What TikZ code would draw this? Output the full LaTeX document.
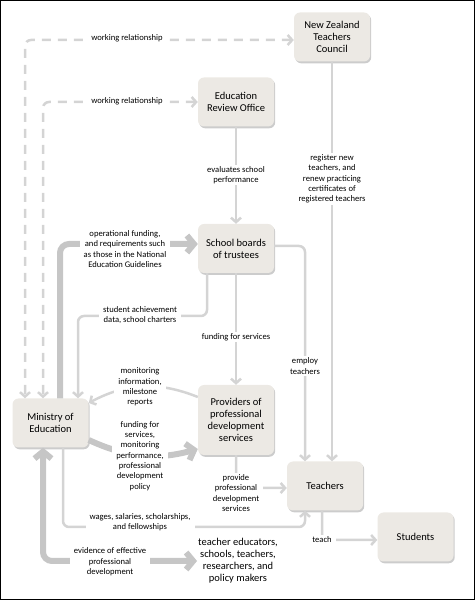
\documentclass[tikz,border=0pt]{standalone}
\usepackage{fontspec}
\setmainfont{Carlito}
\usetikzlibrary{arrows.meta,shadows}
\definecolor{boxfill}{HTML}{ECE9E4}
\definecolor{thinc}{HTML}{D4D4D4}
\definecolor{thickc}{HTML}{C6C6C6}

\begin{document}
\begin{tikzpicture}[x=1pt, y=1pt, node distance={146.5pt},
    main/.style = {fill=boxfill, rounded corners=6pt, minimum width=76pt, minimum height=49pt, align=center, font=\fontsize{10.5}{12}\selectfont, drop shadow={shadow xshift=1.2pt, shadow yshift=-1.8pt, fill=black!40, opacity=.5}},
    lbl/.style = {fill=white, inner xsep=4pt, inner ysep=1.5pt, align=center, font=\fontsize{8.6}{10.3}\selectfont},
    thinline/.style = {draw=thinc, line width=2.5pt, rounded corners=6pt, -{Straight Barb[length=4.5pt, width=10pt]}},
    thickline/.style = {draw=thickc, line width=6pt, rounded corners=9pt, -{Straight Barb[length=7pt, width=17pt]}},
    dashline/.style = {thinline, dash pattern=on 9pt off 7pt, {Straight Barb[length=4.5pt, width=10pt]}-{Straight Barb[length=4.5pt, width=10pt]}}]
    \useasboundingbox (0,0) rectangle (475,600);
    \draw[line width=1pt] (0.5,0.5) rectangle (474.5,599.5);

    \node[main] (3) at (236,351.5) {School boards\\of trustees};
    \node[main] (2) [above of=3] {Education\\Review Office};
    \node[main] (1) [above of=2, node distance=65pt, xshift=96pt] {New Zealand\\Teachers\\Council};
    \node[main, minimum height=70pt] (4) [below of=3, node distance=171.5pt] {Providers of\\professional\\development\\services};
    \node[main] (5) [left of=4, node distance=185.5pt, yshift=-3pt] {Ministry of\\Education};
    \node[main] (6) [below of=4, node distance=66pt, xshift=89pt] {Teachers};
    \node[main] (7) [right of=6, node distance=90.5pt, yshift=-51pt] {Students};
    \node (8) [below of=4, node distance=141pt, xshift=2pt, inner sep=1pt, align=center, font=\fontsize{10.5}{12}\selectfont] {teacher educators,\\schools, teachers,\\researchers, and\\policy makers};

    \coordinate (c6) at (78,284);
    \coordinate (c12) at (305,73);

    \draw[dashline] ([yshift=-3pt]1.west) -| ([xshift=-25.5pt]5.north);
    \draw[dashline] (2.west) -| ([xshift=-7.5pt]5.north);
    \draw[thinline] (2) -- (3);
    \draw[thinline] (1.south) -- ([xshift=7pt]6.north);
    \draw[thickline] ([xshift=9.5pt]5.north) |- ([yshift=4.5pt]3.west);
    \draw[thinline] ([xshift=-29pt]3.south) |- (c6) -- ([xshift=27.5pt]5.north);
    \draw[thinline] (3) -- (4);
    \draw[thinline] ([yshift=2.5pt]3.east) -| ([xshift=-20pt]6.north);
    \draw[thinline] ([yshift=23pt]4.west) to[bend right=25] ([yshift=20pt]5.east);
    \draw[thickline] ([yshift=-17pt]5.east) to[bend right=20] ([yshift=-29pt]4.west);
    \draw[thinline] (4.south) |- ([yshift=-2pt]6.west);
    \draw[thinline] ([xshift=12.5pt]5.south) |- (c12) -- ([xshift=-20pt]6.south);
    \draw[thickline, {Straight Barb[length=7pt, width=17pt]}-{Straight Barb[length=7pt, width=17pt]}] ([xshift=-7.5pt]5.south) |- (8.west);
    \draw[thinline] ([xshift=-3pt]6.south) |- ([yshift=-3pt]7.west);

    % labels on the connectors
    \node[lbl] at (127,562) {working relationship};
    \node[lbl] at (127,499) {working relationship};
    \node[lbl] at (236,425) {evaluates school\\performance};
    \node[lbl] at (332,421) {register new\\teachers, and\\renew practicing\\certificates of\\registered teachers};
    \node[lbl] at (125,351) {operational funding,\\and requirements such\\as those in the National\\Education Guidelines};
    \node[lbl] at (140,285) {student achievement\\data, school charters};
    \node[lbl] at (236,263) {funding for services};
    \node[lbl] at (305,234) {employ\\teachers};
    \node[lbl] at (140,213) {monitoring\\information,\\milestone\\reports};
    \node[lbl] at (140,144) {funding for\\services,\\monitoring\\performance,\\professional\\development\\policy};
    \node[lbl] at (236,107) {provide\\professional\\development\\services};
    \node[lbl] at (140,78) {wages, salaries, scholarships,\\and fellowships};
    \node[lbl] at (110,38) {evidence of effective\\professional\\development};
    \node[lbl] at (322,60) {teach};
\end{tikzpicture}
\end{document}
